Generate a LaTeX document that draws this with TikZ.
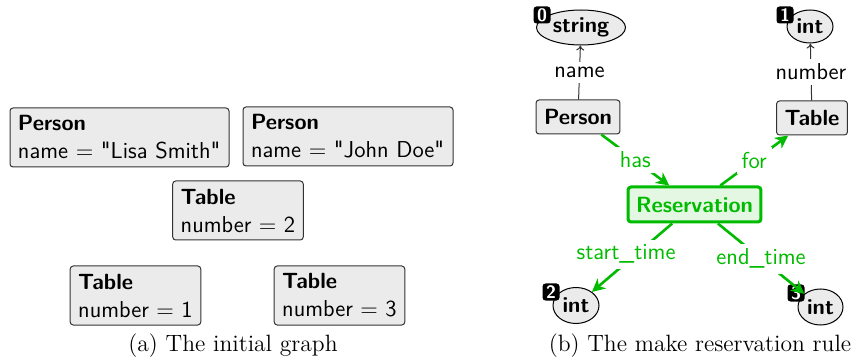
\documentclass[tikz,border=0pt]{standalone}
\usetikzlibrary{arrows.meta,shapes.geometric}
\definecolor{boxgray}{HTML}{EBEBEB}
\definecolor{rulegreen}{HTML}{00BB00}
\definecolor{rulefill}{HTML}{E3F7E3}
\newcommand{\objname}[1]{{\bfseries\fontsize{11}{14}\selectfont #1}}
\tikzset{
	objbox/.style={shape=rectangle, draw=black!80, fill=boxgray, rounded corners=1.5pt, line width=0.5pt, font=\sffamily\fontsize{11.5}{14}\selectfont, align=left, inner xsep=4pt, inner ysep=2pt},
	attrnode/.style={shape=ellipse, draw=black, fill=boxgray, line width=0.5pt, font=\sffamily\bfseries\fontsize{11}{13}\selectfont, inner sep=0pt},
	idbadge/.style={shape=rectangle, fill=black, rounded corners=1.5pt, text=white, font=\sffamily\bfseries\fontsize{9}{9}\selectfont, minimum size=8.5pt, inner sep=0pt},
	ruleedge/.style={draw=rulegreen, line width=1.3pt, -{Stealth[length=6.5pt,width=6.5pt,inset=2pt]}},
	attredge/.style={draw=black!80, line width=0.5pt, -{To[length=2.5pt,width=4pt]}},
	edgelabel/.style={fill=white, font=\sffamily\fontsize{11.5}{13}\selectfont, inner sep=2.5pt},
	capt/.style={font=\rmfamily\fontsize{11.8}{14}\selectfont}
}

\begin{document}
\begin{tikzpicture}[x=0.5pt, y=-0.5pt]
			\useasboundingbox (0, 0) rectangle (851, 363);
			\node[objbox, minimum height=29.5pt, text width=101.5pt](N1) at (119.5, 137.5){\objname{Person}\\name = \textquotedbl Lisa Smith\textquotedbl};
			\node[objbox, minimum height=29.5pt, text width=97pt](N2) at (348, 136.5){\objname{Person}\\name = \textquotedbl John Doe\textquotedbl};
			\node[objbox, minimum height=29.5pt, minimum width=64.5pt](N3) at (238, 210.5){\objname{Table}\\number = 2};
			\node[objbox, minimum height=29.5pt, minimum width=64.5pt](N4) at (135.5, 295.5){\objname{Table}\\number = 1};
			\node[objbox, minimum height=29.5pt, minimum width=64.5pt](N5) at (339.5, 295.5){\objname{Table}\\number = 3};
			\node[capt](N6) at (233, 346){(a) The initial graph};
			\node[attrnode, minimum width=44.5pt, minimum height=17.5pt](N7) at (581, 27.5){string};
			\node[idbadge](N8) at (542, 15){0};
			\node[attrnode, minimum width=23pt, minimum height=16.5pt](N9) at (810, 26.5){int};
			\node[idbadge](N10) at (785, 15){1};
			\node[objbox, minimum width=41pt, minimum height=17pt](N11) at (578, 117){\objname{Person}};
			\node[objbox, minimum width=34pt, minimum height=17pt](N12) at (812, 118){\objname{Table}};
			\node[objbox, draw=rulegreen, fill=rulefill, line width=1.5pt, text=rulegreen, minimum width=65.5pt, minimum height=17.5pt](N13) at (694.5, 204.5){\objname{Reservation}};
			\node[attrnode, minimum width=23pt, minimum height=18pt](N14) at (576, 305.5){int};
			\node[idbadge](N15) at (551, 292){2};
			\node[attrnode, minimum width=22.5pt, minimum height=18pt](N16) at (820.5, 307){int};
			\node[idbadge](N17) at (796, 293){3};
			\node[capt](N18) at (700, 346){(b) The make reservation rule};
			\draw[attredge] (N11) -- node[edgelabel, midway]{name} (N7);
			\draw[attredge] (N12) -- node[edgelabel, midway]{number} (N9);
			\draw[ruleedge] (N11) -- node[edgelabel, midway, text=rulegreen]{has} (N13);
			\draw[ruleedge] (N13) -- node[edgelabel, midway, text=rulegreen]{for} (N12);
			\draw[ruleedge] (N13) -- node[edgelabel, pos=0.45, xshift=-5pt, text=rulegreen]{start\_time} (N14);
			\draw[ruleedge] (N13) -- node[edgelabel, midway, text=rulegreen]{end\_time} (N16);
		\end{tikzpicture}
\end{document}
